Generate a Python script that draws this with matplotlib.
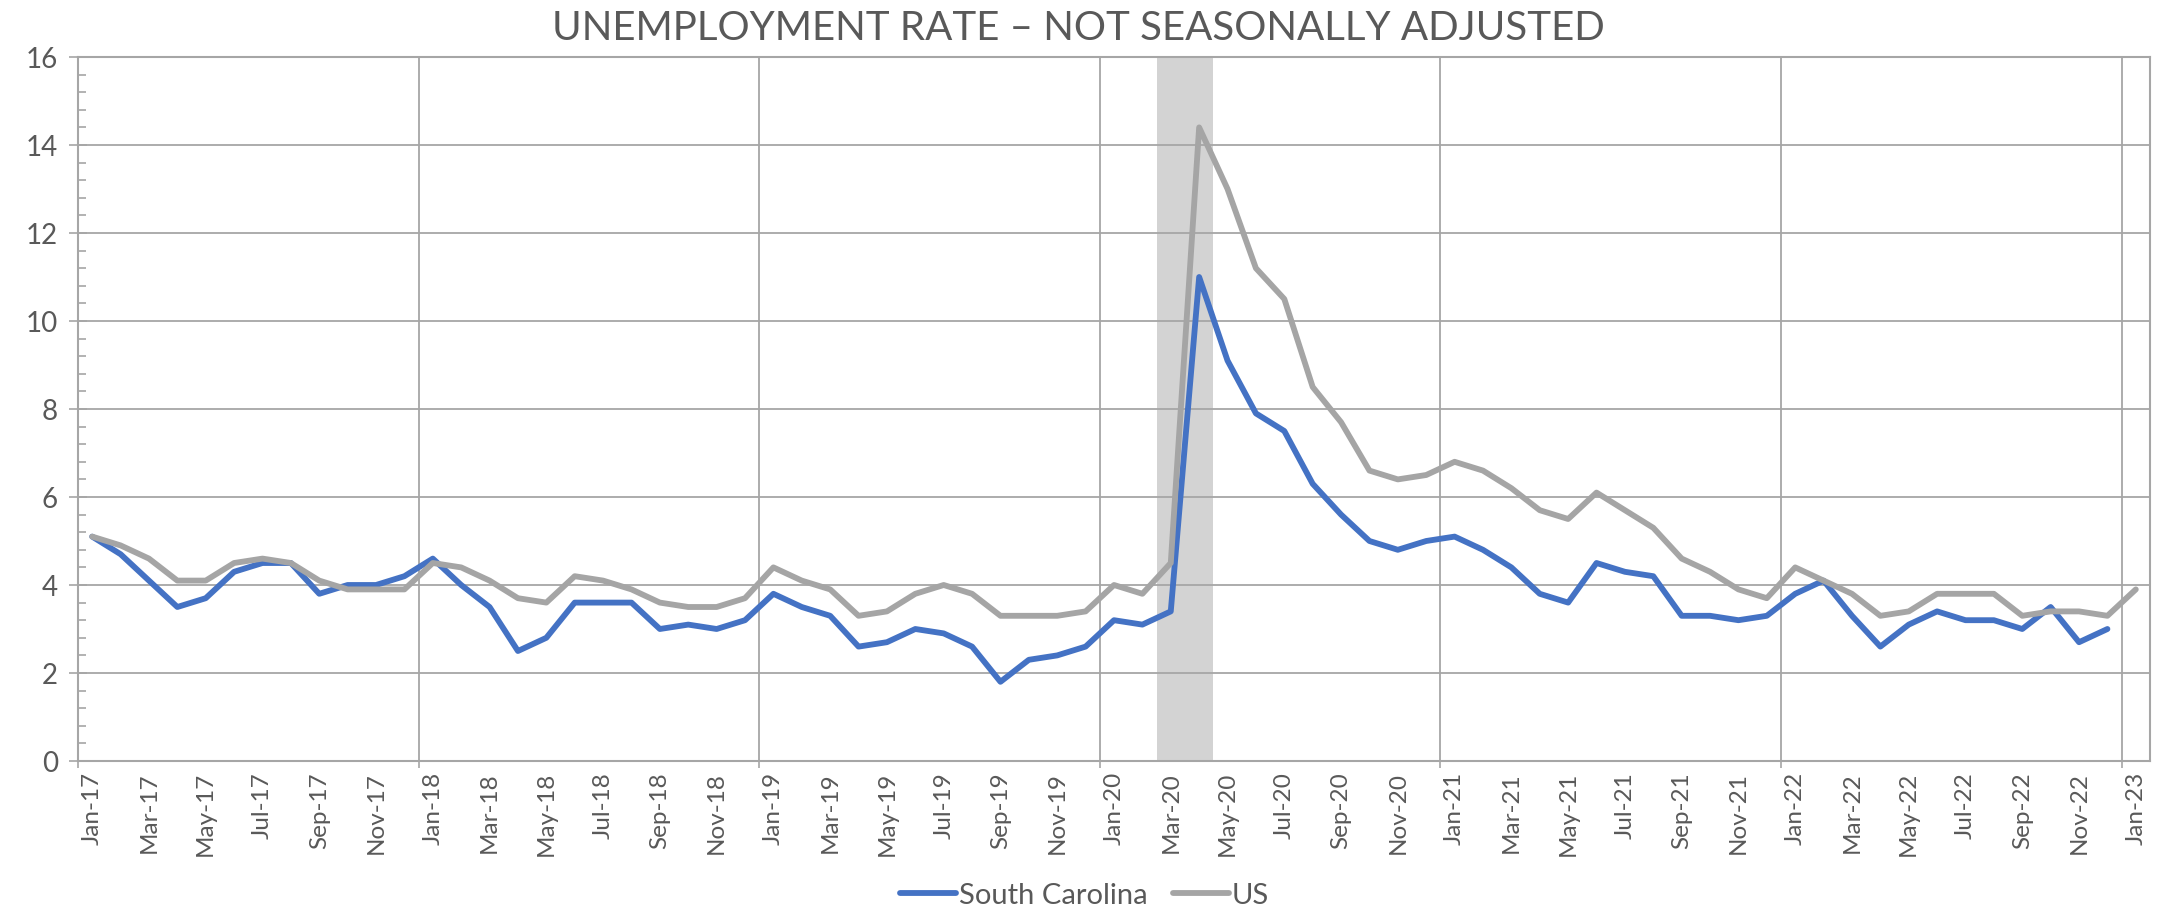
#!/usr/bin/env python3
"""
unemployment rate, not seasonally adjusted: South Carolina vs US, 2017-2023
"""
import numpy as np
import pandas as pd
import matplotlib
matplotlib.use('Agg')
import matplotlib.pyplot as plt
from matplotlib.ticker import FixedLocator, MultipleLocator

#%% data
months = pd.date_range('2017-01-01', '2023-01-01', freq='MS')
month_labels = [m.strftime('%b-%y') for m in months]

# South Carolina, Jan-17 .. Dec-22 (no Jan-23 value yet)
sc = [5.1, 4.7, 4.1, 3.5, 3.7, 4.3, 4.5, 4.5, 3.8, 4.0, 4.0, 4.2,
      4.6, 4.0, 3.5, 2.5, 2.8, 3.6, 3.6, 3.6, 3.0, 3.1, 3.0, 3.2,
      3.8, 3.5, 3.3, 2.6, 2.7, 3.0, 2.9, 2.6, 1.8, 2.3, 2.4, 2.6,
      3.2, 3.1, 3.4, 11.0, 9.1, 7.9, 7.5, 6.3, 5.6, 5.0, 4.8, 5.0,
      5.1, 4.8, 4.4, 3.8, 3.6, 4.5, 4.3, 4.2, 3.3, 3.3, 3.2, 3.3,
      3.8, 4.1, 3.3, 2.6, 3.1, 3.4, 3.2, 3.2, 3.0, 3.5, 2.7, 3.0]

# US, Jan-17 .. Jan-23
us = [5.1, 4.9, 4.6, 4.1, 4.1, 4.5, 4.6, 4.5, 4.1, 3.9, 3.9, 3.9,
      4.5, 4.4, 4.1, 3.7, 3.6, 4.2, 4.1, 3.9, 3.6, 3.5, 3.5, 3.7,
      4.4, 4.1, 3.9, 3.3, 3.4, 3.8, 4.0, 3.8, 3.3, 3.3, 3.3, 3.4,
      4.0, 3.8, 4.5, 14.4, 13.0, 11.2, 10.5, 8.5, 7.7, 6.6, 6.4, 6.5,
      6.8, 6.6, 6.2, 5.7, 5.5, 6.1, 5.7, 5.3, 4.6, 4.3, 3.9, 3.7,
      4.4, 4.1, 3.8, 3.3, 3.4, 3.8, 3.8, 3.8, 3.3, 3.4, 3.4, 3.3,
      3.9]

recession = ['Mar-20', 'Apr-20']  # shaded months

#%% style
blue = '#4472C4'
grey = '#A5A5A5'
gridc = '#A6A6A6'
txtc = '#595959'
plt.rcParams['font.family'] = ['Lato', 'DejaVu Sans']

fg = plt.figure(figsize=(21.65, 9.11), dpi=100)
ax = fg.add_axes([78/2165, 150/911, (2150-78)/2165, (761-57)/911])

x = np.arange(len(months))
i0 = month_labels.index(recession[0])
i1 = month_labels.index(recession[-1])
ax.axvspan(i0 - 0.5, i1 + 0.5, color='#D3D3D3', lw=0, zorder=0.3)

ax.plot(x[:len(sc)], sc, color=blue, lw=4.2, label='South Carolina', zorder=3,
        solid_joinstyle='round', solid_capstyle='round')
ax.plot(x[:len(us)], us, color=grey, lw=4.2, label='US', zorder=3,
        solid_joinstyle='round', solid_capstyle='round')

#%% axes
ax.set_xlim(-0.5, len(months) - 0.5)
ax.set_ylim(0, 16)

ax.xaxis.set_major_locator(FixedLocator(x[::2]))
ax.set_xticklabels(month_labels[::2], rotation=90, fontsize=17.5, color=txtc)
ax.xaxis.set_minor_locator(FixedLocator(np.arange(-0.5, len(months), 12)))
ax.tick_params(axis='x', which='major', length=0, pad=8)
ax.tick_params(axis='x', which='minor', length=5, width=1.2, color=gridc,
               direction='out')
ax.grid(True, axis='x', which='minor', color=gridc, lw=1.3, zorder=0.5)

ax.yaxis.set_major_locator(MultipleLocator(2))
ax.yaxis.set_minor_locator(MultipleLocator(0.4))
ax.tick_params(axis='y', which='major', direction='inout', length=13,
               width=1.2, color=gridc, labelsize=20, labelcolor=txtc, pad=8)
ax.tick_params(axis='y', which='minor', direction='in', length=5.5,
               width=1.2, color=gridc)
ax.grid(True, axis='y', which='major', color=gridc, lw=1.3, zorder=0.5)
ax.set_axisbelow(True)

for s in ['left', 'bottom', 'right', 'top']:
    ax.spines[s].set_color(gridc)
    ax.spines[s].set_linewidth(1.5)

fg.suptitle('UNEMPLOYMENT RATE \u2013 NOT SEASONALLY ADJUSTED', x=0.498,
            y=0.969, va='center', fontsize=29, color=txtc)

lg = fg.legend(loc='center', bbox_to_anchor=(0.501, 0.017), ncol=2,
               frameon=False, fontsize=21, handlelength=1.9, handletextpad=0.1,
               columnspacing=0.9)
for t in lg.get_texts():
    t.set_color(txtc)

fg.savefig('out.png', dpi=100)
